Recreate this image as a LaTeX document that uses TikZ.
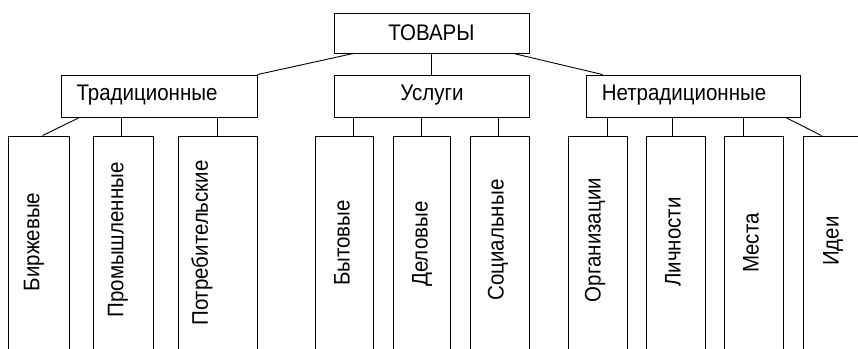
\documentclass[tikz,border=0pt]{standalone}
\usepackage{fontspec}
\usepackage{graphicx}
\setmainfont{Liberation Sans}
\newcommand{\tallt}[1]{\scalebox{1}[1.1]{#1}}
\begin{document}
\begin{tikzpicture}[x=1pt,y=-1pt,
  box/.style={draw=black, line width=0.9pt, inner sep=0pt, fill=none},
  lbl/.style={inner sep=0pt, font=\fontsize{20.5}{24}\selectfont},
  vlbl/.style={lbl, rotate=90},
  conn/.style={draw=black, line width=0.9pt}]
\clip (0,0) rectangle (858,348);
\fill[white] (0,0) rectangle (858,348);
% top
\node[box, minimum width=195pt, minimum height=40pt] (tov) at (431.5,33) {};
\node[lbl] (tovt) at (431.5,33) {\tallt{ТОВАРЫ}};
% second row
\node[box, minimum width=196pt, minimum height=42pt] (trad) at (159,96) {};
\node[lbl] (tradt) at (147,95) {\tallt{Традиционные}};
\node[box, minimum width=195pt, minimum height=42pt] (usl) at (431.5,96) {};
\node[lbl] (uslt) at (432,95) {\tallt{Услуги}};
\node[box, minimum width=214pt, minimum height=42pt] (net) at (693,96) {};
\node[lbl] (nett) at (684,95) {\tallt{Нетрадиционные}};
% bottom row
\node[box, minimum width=61pt, minimum height=224pt] (b1) at (38.5,248) {};
\node[box, minimum width=60pt, minimum height=224pt] (b2) at (123,248) {};
\node[box, minimum width=79pt, minimum height=224pt] (b3) at (217.5,248) {};
\node[box, minimum width=58pt, minimum height=224pt] (b4) at (344,248) {};
\node[box, minimum width=57pt, minimum height=224pt] (b5) at (421.5,248) {};
\node[box, minimum width=59pt, minimum height=224pt] (b6) at (499.5,248) {};
\node[box, minimum width=59pt, minimum height=224pt] (b7) at (597.5,248) {};
\node[box, minimum width=59pt, minimum height=224pt] (b8) at (675.5,248) {};
\node[box, minimum width=59pt, minimum height=224pt] (b9) at (753.5,248) {};
\node[box, minimum width=77pt, minimum height=224pt] (b10) at (841.5,248) {};
\node[vlbl] (t1) at (34,242) {\tallt{Биржевые}};
\node[vlbl] (t2) at (118,240) {\tallt{Промышленные}};
\node[vlbl] (t3) at (202,243) {\tallt{Потребительские}};
\node[vlbl] (t4) at (342,243) {\tallt{Бытовые}};
\node[vlbl] (t5) at (422,244) {\tallt{Деловые}};
\node[vlbl] (t6) at (498,240) {\tallt{Социальные}};
\node[vlbl] (t7) at (595,240) {\tallt{Организации}};
\node[vlbl] (t8) at (673,242) {\tallt{Личности}};
\node[vlbl] (t9) at (751,243) {\tallt{Места}};
\node[vlbl] (t10) at (833,241) {\tallt{Идеи}};
% connectors top
\draw[conn] ([xshift=20pt]tov.south west) -- (trad.north east);
\draw[conn] (tov.south) -- (usl.north);
\draw[conn] ([xshift=-16pt]tov.south east) -- ([xshift=17pt]net.north west);
% Traditional
\draw[conn] ([xshift=19pt]trad.south west) -- ([xshift=35pt]b1.north west);
\draw[conn] ([xshift=-2pt]b2.north |- trad.south) -- ([xshift=-2pt]b2.north);
\draw[conn] (b3.north |- trad.south) -- (b3.north);
% Services
\draw[conn] ([xshift=9pt]b4.north |- usl.south) -- ([xshift=9pt]b4.north);
\draw[conn] (b5.north |- usl.south) -- (b5.north);
\draw[conn] ([xshift=-1.5pt]b6.north |- usl.south) -- ([xshift=-1.5pt]b6.north);
% Non-traditional
\draw[conn] ([xshift=10pt]b7.north |- net.south) -- ([xshift=10pt]b7.north);
\draw[conn] ([xshift=-3pt]b8.north |- net.south) -- ([xshift=-3pt]b8.north);
\draw[conn] ([xshift=-10pt]b9.north |- net.south) -- ([xshift=-10pt]b9.north);
\draw[conn] ([xshift=-15pt]net.south east) -- ([xshift=19pt]b10.north west);
\end{tikzpicture}
\end{document}
